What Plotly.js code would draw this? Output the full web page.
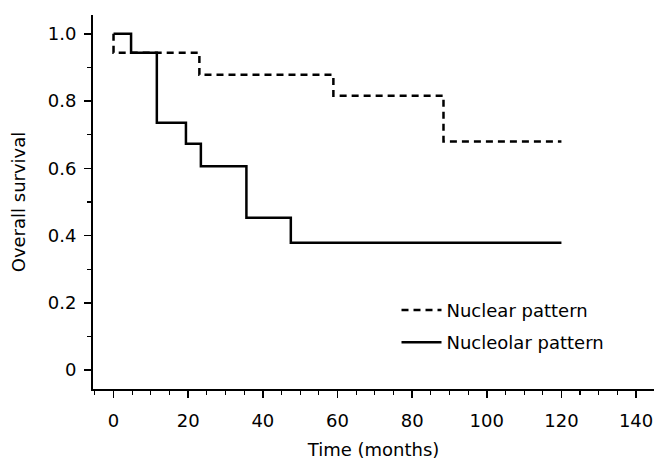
<!DOCTYPE html>
<html>
<head>
<meta charset="utf-8">
<script src="https://cdn.plot.ly/plotly-3.0.1.min.js"></script>
<style>html,body{margin:0;padding:0;background:#fff;}#chart{width:654px;height:461px;}</style>
</head>
<body>
<div id="chart"></div>
<script>
// Kaplan-Meier step data (time in months, survival proportion)
const nuclearTime = [0, 0, 23.0, 58.9, 88.4, 120];
const nuclearSurv = [1.0, 0.944, 0.878, 0.816, 0.680, 0.680];
const nucleolarTime = [0, 4.7, 11.6, 19.4, 23.4, 35.6, 47.5, 120];
const nucleolarSurv = [1.0, 0.944, 0.736, 0.673, 0.606, 0.453, 0.379, 0.379];
const seriesNames = ["Nuclear pattern", "Nucleolar pattern"];
const yTickVals = [0, 0.2, 0.4, 0.6, 0.8, 1.0];
const yTickText = ["0", "0.2", "0.4", "0.6", "0.8", "1.0"];
const xTickVals = [0, 20, 40, 60, 80, 100, 120, 140];

const FONT = "DejaVu Sans, Liberation Sans, Arial, sans-serif";

const traces = [
  {x: nuclearTime, y: nuclearSurv, name: seriesNames[0], type: "scatter", mode: "lines",
   line: {shape: "hv", color: "#000", width: 2.5, dash: "7px,5px"}, legendgroup: "a"},
  {x: nucleolarTime, y: nucleolarSurv, name: seriesNames[1], type: "scatter", mode: "lines",
   line: {shape: "hv", color: "#000", width: 2.5}, legendgroup: "b"}
];

const layout = {
  width: 654, height: 461,
  margin: {l: 93, r: 0, t: 15, b: 72},
  paper_bgcolor: "#fff", plot_bgcolor: "#fff",
  font: {family: FONT, size: 18, color: "#000"},
  showlegend: true,
  legend: {x: 0.541, y: 0.26, xanchor: "left", yanchor: "top", bgcolor: "rgba(0,0,0,0)",
           font: {family: FONT, size: 18, color: "#000"}, itemwidth: 40, tracegroupgap: 6},
  xaxis: {
    range: [-5.5, 144.8], showgrid: false, zeroline: false,
    showline: true, linecolor: "#000", linewidth: 2,
    ticks: "outside", ticklen: 7, tickwidth: 1.5, tickcolor: "#000",
    tickmode: "array", tickvals: xTickVals, ticklabelstandoff: 7,
    minor: {dtick: 5, ticks: "outside", ticklen: 4, tickwidth: 1.2, tickcolor: "#000", showgrid: false},
    title: {text: "Time (months)", font: {family: FONT, size: 18}, standoff: 14}
  },
  yaxis: {
    range: [-0.056, 1.056], showgrid: false, zeroline: false,
    showline: true, linecolor: "#000", linewidth: 2,
    ticks: "outside", ticklen: 7, tickwidth: 1.5, tickcolor: "#000",
    tickmode: "array", tickvals: yTickVals, ticktext: yTickText, ticklabelstandoff: 4,
    minor: {dtick: 0.1, ticks: "outside", ticklen: 4, tickwidth: 1.2, tickcolor: "#000", showgrid: false},
    title: {text: "Overall survival", font: {family: FONT, size: 18}, standoff: 17}
  }
};

Plotly.newPlot("chart", traces, layout, {displayModeBar: false, staticPlot: true});
</script>
</body>
</html>
